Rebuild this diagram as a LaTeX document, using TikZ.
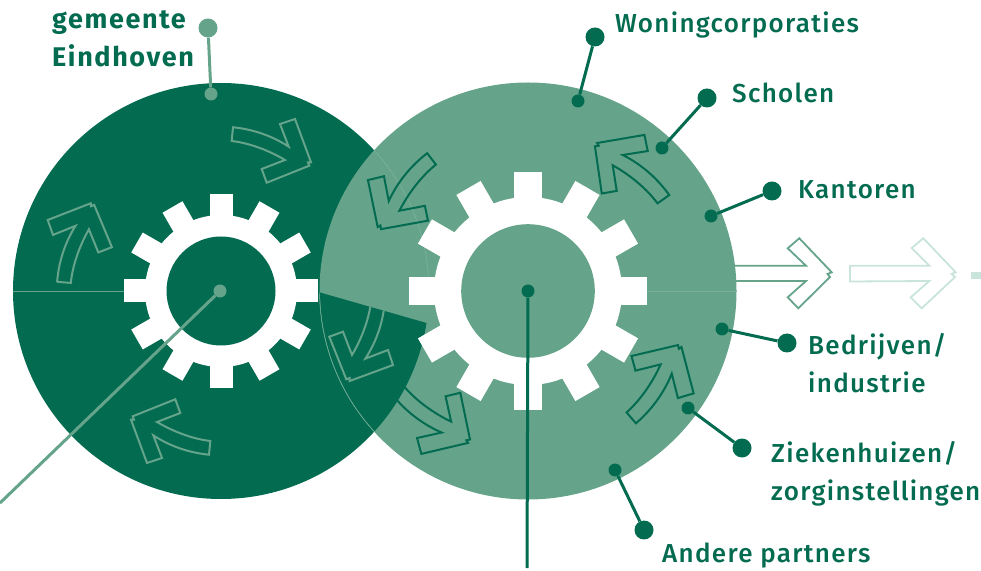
\documentclass[tikz,border=0pt]{standalone}
\usepackage{fontspec}
\setmainfont{Fira Sans Medium}[LetterSpace=5]
\newfontfamily\boldlabel{Fira Sans}[LetterSpace=6, BoldFont={Fira Sans Bold}]
\usetikzlibrary{calc}
\definecolor{darkgreen}{HTML}{026B50}
\definecolor{midgreen}{HTML}{65A48B}
\definecolor{palegreen}{HTML}{C9E4DA}
\definecolor{seamgreen}{HTML}{84B7A3}
\tikzset{
    bigdot/.style = {circle, fill = #1, inner sep = 0pt, minimum size = 19pt},
    smalldot/.style = {circle, fill = #1, inner sep = 0pt, minimum size = 13pt},
    leader/.style = {line width = 3pt, #1},
    lbl/.style = {text = darkgreen, align = left, font = \fontsize{26}{38}\selectfont, inner sep = 0pt},
    seam/.style = {line width = 0.4pt, seamgreen},
    turnarrow/.style = {line width = 2pt, line join = miter, #1},
    exitarrow/.style = {line width = 1.8pt, #1}
}
% arrow round a gear, drawn around the origin of its scope
\newcommand{\turnpath}{
    (12, 163.7) -- (10.7, 150) .. controls (28, 148) and (47, 141) .. (64, 131)
    -- (40.7, 122) -- (45.7, 108.3) -- (88.3, 125.3) -- (87, 128.7) -- (90, 128.7)
    -- (74, 172) -- (59, 167) -- (67.7, 144.3) .. controls (50, 156) and (30, 162) .. cycle
}
% center, outer radius, root radius, hole radius, tooth width, hole colour
\newcommand{\gearwheel}[6]{
    \fill[white] (#1) circle (#3);
    \foreach \a in {0, 30, ..., 330} {
        \fill[white, rotate around = {\a:(#1)}] ($(#1) + (-#5/2, 0)$) rectangle ($(#1) + (#5/2, #2)$);
    }
    \fill[#6] (#1) circle (#4);
}
\begin{document}
\begin{tikzpicture}[x = 1pt, y = 1pt]
    \useasboundingbox (0, 0) rectangle (981, 570);
    \coordinate (gear_l) at (221, 279);
    \coordinate (gear_r) at (528, 279);

    % discs
    \fill[darkgreen] (gear_l) circle (208);
    \fill[midgreen] (gear_r) circle (208.5);
    \draw[seam] ($(gear_l) + (42.4:208)$) arc[start angle = 42.4, end angle = 4, radius = 208];
    \draw[seam, midgreen] (13, 278.5) -- (124, 278.5);
    \draw[seam, seamgreen!70!midgreen] (647, 278.5) -- (737, 278.5);

    % arrows of the right disc
    \foreach \r in {32, -60, -145, 123.5} {
        \draw[turnarrow = darkgreen, shift = {(gear_r)}, rotate = \r, xscale = -1.04, yscale = 1.04] \turnpath;
    }

    % wedge over the overlap
    \coordinate (wedge_q) at ($(gear_l) + (-8.85:208)$);
    \fill[darkgreen] (wedge_q) arc[start angle = -8.85, end angle = -42.4, radius = 208]
        arc[start angle = 222.4, end angle = 180.5, radius = 208.5] -- cycle;
    \draw[seam] ($(gear_r) + (222.4:208.5)$) arc[start angle = 222.4, end angle = 180.5, radius = 208.5];

    % arrows of the left disc
    \foreach \r in {0, 91, 180} {
        \draw[turnarrow = midgreen, shift = {(gear_l)}, rotate = \r] \turnpath;
    }
    \begin{scope}
        \clip (wedge_q) arc[start angle = -8.85, end angle = -42.4, radius = 208]
            arc[start angle = 222.4, end angle = 180.5, radius = 208.5] -- cycle;
        \draw[turnarrow = midgreen, shift = {(gear_l)}, rotate = -90] \turnpath;
    \end{scope}

    \gearwheel{gear_l}{97}{76}{54.5}{23}{darkgreen}
    \gearwheel{gear_r}{119}{94}{66.8}{28}{midgreen}

    % arrows leaving the right disc
    \draw[exitarrow = midgreen] (735, 304.3) -- (806, 304.3) -- (787.7, 321.7) -- (799.3, 331.7)
        -- (831.7, 297.7) -- (827.5, 296) -- (830, 293) -- (798.3, 261.7) -- (787.7, 272.7)
        -- (806, 289) -- (735, 289);
    \draw[exitarrow = palegreen] (850, 304.3) -- (929.3, 304.3) -- (911.7, 322) -- (923.3, 331.7)
        -- (955.7, 297.7) -- (951.5, 296) -- (955, 293) -- (921.7, 261.7) -- (910.7, 272.7)
        -- (929.3, 289) -- (850, 288.5) -- cycle;
    \fill[palegreen] (971, 290.7) rectangle (981, 298.3);

    % leaders, outer dot to inner dot
    \node[bigdot = midgreen] (gemeente_a) at (208, 542) {};
    \node[smalldot = midgreen] (gemeente_b) at (211, 476) {};
    \draw[leader = midgreen] (gemeente_a) -- (gemeente_b);

    \node[smalldot = midgreen] (hub_l) at (220, 279) {};
    \coordinate (hub_l_end) at (0, 67);
    \draw[leader = midgreen] (hub_l) -- (hub_l_end);

    \node[smalldot = darkgreen] (hub_r) at (528, 279) {};
    \coordinate (hub_r_end) at (527, 2);
    \draw[leader = darkgreen] (hub_r) -- (hub_r_end);

    \node[bigdot = darkgreen] (woning_a) at (595, 533) {};
    \node[smalldot = darkgreen] (woning_b) at (578, 469) {};
    \draw[leader = darkgreen] (woning_a) -- (woning_b);

    \node[bigdot = darkgreen] (school_a) at (707, 472) {};
    \node[smalldot = darkgreen] (school_b) at (662, 422) {};
    \draw[leader = darkgreen] (school_a) -- (school_b);

    \node[bigdot = darkgreen] (kantoor_a) at (772, 379) {};
    \node[smalldot = darkgreen] (kantoor_b) at (711, 354) {};
    \draw[leader = darkgreen] (kantoor_a) -- (kantoor_b);

    \node[bigdot = darkgreen] (bedrijf_a) at (787, 227) {};
    \node[smalldot = darkgreen] (bedrijf_b) at (722, 241) {};
    \draw[leader = darkgreen] (bedrijf_a) -- (bedrijf_b);

    \node[bigdot = darkgreen] (zorg_a) at (742, 122) {};
    \node[smalldot = darkgreen] (zorg_b) at (688, 162) {};
    \draw[leader = darkgreen] (zorg_a) -- (zorg_b);

    \node[bigdot = darkgreen] (partner_a) at (644, 40) {};
    \node[smalldot = darkgreen] (partner_b) at (615, 100) {};
    \draw[leader = darkgreen] (partner_a) -- (partner_b);

    % labels
    \node[lbl, anchor = west, font = \fontsize{27}{38}\selectfont] (lbl_gemeente) at (52, 531.5) {\boldlabel\bfseries gemeente\\\boldlabel\bfseries Eindhoven};
    \node[lbl, anchor = base west] (lbl_woning) at (615, 537) {Woningcorporaties};
    \node[lbl, anchor = base west] (lbl_school) at (732, 467) {Scholen};
    \node[lbl, anchor = base west] (lbl_kantoor) at (798, 371) {Kantoren};
    \node[lbl, anchor = west] (lbl_bedrijf) at (808, 207) {Bedrijven/\\industrie};
    \node[lbl, anchor = west] (lbl_zorg) at (771, 96) {Ziekenhuizen/\\zorginstellingen};
    \node[lbl, anchor = base west] (lbl_partner) at (662, 8) {Andere partners};
\end{tikzpicture}
\end{document}
